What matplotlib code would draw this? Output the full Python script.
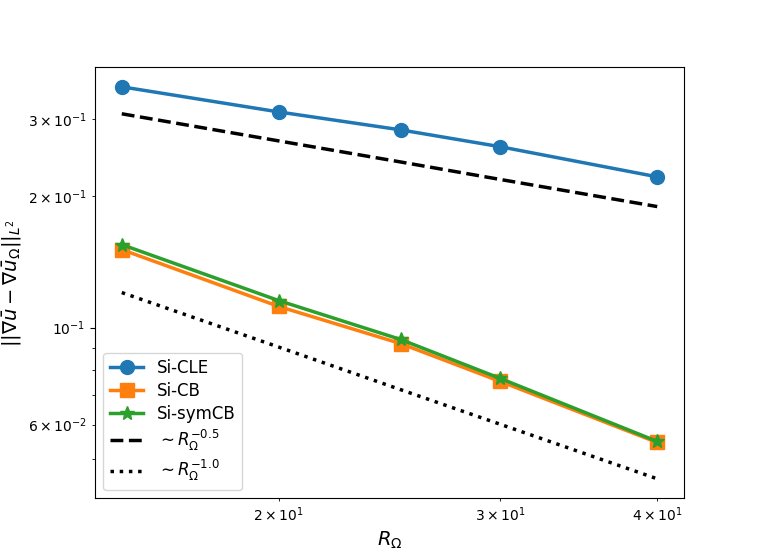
import matplotlib
matplotlib.use("Agg")
import matplotlib.pyplot as plt

R = [15, 20, 25, 30, 40]
si_cle = [0.355, 0.311, 0.283, 0.259, 0.221]
si_cb = [0.1507, 0.1117, 0.0919, 0.0753, 0.0546]
si_symcb = [0.1547, 0.1152, 0.0939, 0.0765, 0.0549]
ref_half = [0.308, 0.267, 0.239, 0.218, 0.189]
ref_one = [0.1202, 0.0902, 0.0721, 0.0601, 0.0451]

fig, ax = plt.subplots(figsize=(7.6, 5.6), dpi=100)
ax.loglog(R, si_cle, '-o', color='#1f77b4', lw=2.5, ms=10, label='Si-CLE')
ax.loglog(R, si_cb, '-s', color='#ff7f0e', lw=2.5, ms=10, label='Si-CB')
ax.loglog(R, si_symcb, '-*', color='#2ca02c', lw=2.5, ms=10, label='Si-symCB')
ax.loglog(R, ref_half, '--', color='black', lw=2.5, label=r'$\sim R_{\Omega}^{-0.5}$')
ax.loglog(R, ref_one, ':', color='black', lw=2.5, label=r'$\sim R_{\Omega}^{-1.0}$')
ax.set_xlabel(r'$R_{\Omega}$', fontsize=14)
ax.set_ylabel(r'$||\nabla \bar{u} - \nabla \bar{u}_{\Omega}||_{L^2}$', fontsize=14)
ax.legend(fontsize=12, loc='lower left', labelspacing=0.3)
fig.savefig('out.png', dpi=100)
